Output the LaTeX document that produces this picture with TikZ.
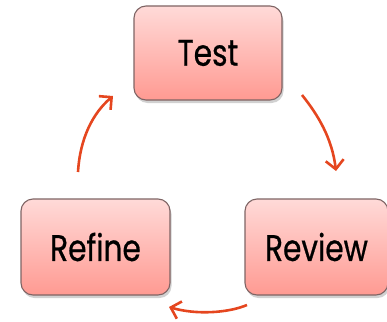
\documentclass[tikz,border=0pt]{standalone}
\usepackage{fontspec}
\setmainfont{Poppins}[FakeStretch=0.8,FakeBold=0.6]
\usetikzlibrary{arrows.meta,shadows}
\definecolor{boxtop}{HTML}{FFDAD8}
\definecolor{boxbot}{HTML}{FF9A92}
\definecolor{boxline}{HTML}{7E6464}
\definecolor{arrowc}{HTML}{E5461F}
\tikzset{
  stagebox/.style={draw=boxline, line width=1.1pt, rounded corners=12pt,
    top color=boxtop, bottom color=boxbot, font=\fontsize{37}{40}\selectfont,
    drop shadow={shadow xshift=1.5pt, shadow yshift=-3pt, opacity=0.3, fill=black!60},
    inner sep=0pt},
  cyclearrow/.style={draw=arrowc, line width=2.6pt,
    -{Straight Barb[length=9pt,width=18pt,line width=2.6pt]}}
}
\begin{document}
\begin{tikzpicture}[x=1pt,y=-1pt]
\useasboundingbox (0,0) rectangle (387,321);
\begin{scope}
\clip (0,0) rectangle (387,321);
\node[stagebox, minimum width=148pt, minimum height=94pt] (test) at (208,53) {Test};
\node[stagebox, minimum width=149pt, minimum height=96pt] (refine) at (95.5,247) {Refine};
\node[stagebox, minimum width=143pt, minimum height=96pt] (review) at (316.5,247) {Review};
\end{scope}
\coordinate (a1s) at (78,172);
\coordinate (a1e) at (113,96);
\coordinate (a2s) at (302,95);
\coordinate (a2e) at (336,171);
\coordinate (a3s) at (247,305);
\coordinate (a3e) at (169,307);
\draw[cyclearrow] (a1s) .. controls (80,138) and (93,113) .. (a1e);
\draw[cyclearrow] (a2s) .. controls (318,115) and (332,138) .. (a2e);
\draw[cyclearrow] (a3s) .. controls (228,313) and (196,315) .. (a3e);
\end{tikzpicture}
\end{document}
